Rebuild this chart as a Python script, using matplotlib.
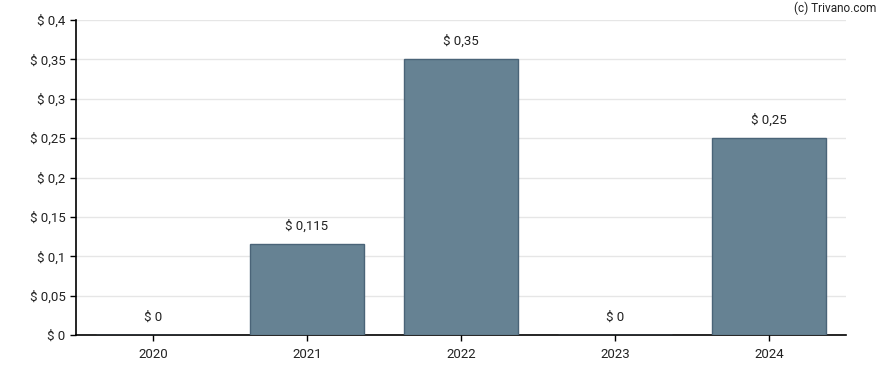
import matplotlib
matplotlib.use("Agg")
import matplotlib.pyplot as plt

years = ["2020", "2021", "2022", "2023", "2024"]
values = [0.0, 0.115, 0.35, 0.0, 0.25]
value_labels = ["$ 0", "$ 0,115", "$ 0,35", "$ 0", "$ 0,25"]
yticks = [0, 0.05, 0.1, 0.15, 0.2, 0.25, 0.3, 0.35, 0.4]
ytick_labels = ["$ 0", "$ 0,05", "$ 0,1", "$ 0,15", "$ 0,2", "$ 0,25", "$ 0,3", "$ 0,35", "$ 0,4"]

plt.rcParams['font.family'] = ['Roboto', 'DejaVu Sans']
fig = plt.figure(figsize=(8.88, 3.7), dpi=100)
ax = fig.add_axes([76/888, 35/370, 770/888, 315/370])

x = list(range(len(years)))
ax.bar(x, values, width=0.74, color="#668293", edgecolor="#4a6478", linewidth=1, zorder=3)
for xi, v, lab in zip(x, values, value_labels):
    ax.annotate(lab, (xi, v), xytext=(0, 13), textcoords="offset points",
                ha="center", va="center", fontsize=9.5, color="#222222")

ax.set_xlim(-0.5, 4.5)
ax.set_ylim(0, 0.4)
ax.set_xticks(x)
ax.set_xticklabels(years)
ax.set_yticks(yticks)
ax.set_yticklabels(ytick_labels)
ax.tick_params(axis="both", labelsize=9.5, labelcolor="#222222", color="black", length=4, width=1)
ax.tick_params(axis="x", pad=5)
ax.yaxis.grid(True, color="#e6e6e6", linewidth=1, zorder=0)
ax.set_axisbelow(True)
for s in ["top", "right"]:
    ax.spines[s].set_visible(False)
for s in ["left", "bottom"]:
    ax.spines[s].set_color("black")
    ax.spines[s].set_linewidth(1.2)

fig.text(876/888, 1 - 8/370, "(c) Trivano.com", ha="right", va="center", fontsize=8.5, color="#222222")
fig.savefig("out.png", dpi=100)
